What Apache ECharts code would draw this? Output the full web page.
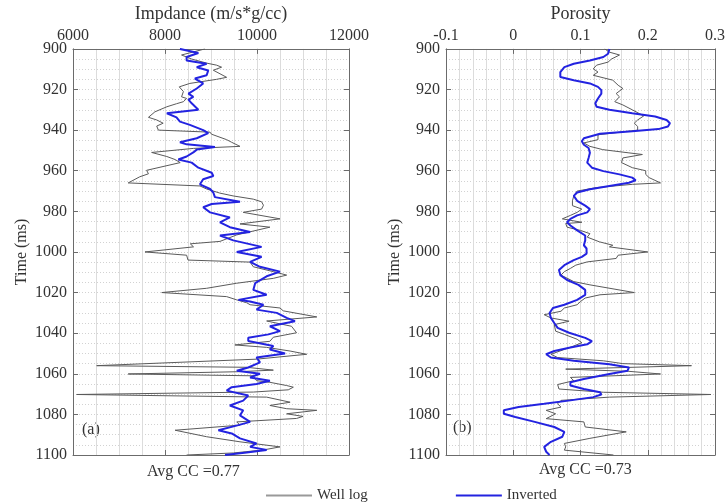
<!DOCTYPE html>
<html>
<head>
<meta charset="utf-8">
<script src="https://cdn.jsdelivr.net/npm/echarts@6/dist/echarts.min.js"></script>
<style>
html,body{margin:0;padding:0;background:#fff;}
#chart{width:728px;height:502px;}
</style>
</head>
<body>
<div id="chart"></div>
<script>
// ---- Data ----
const impTicks = [6000, 8000, 10000, 12000];
const porTicks = [-0.1, 0, 0.1, 0.2, 0.3];
const timeTicks = [900, 920, 940, 960, 980, 1000, 1020, 1040, 1060, 1080, 1100];

// (a) Impedance - well log
const impLogTime = [900,903,905,907,908,909,910.5,914,915,917,918.7,921,923.6,924.4,926,927,928.5,931,933.7,935,936.6,938,940,941,942,944.7,946,948,949,951,953,954.5,956,959.8,961.5,963,966,967.5,969,970,971,972.4,974,975.3,977,978.9,980.5,983.7,986.2,987.8,991.6,994.8,996,997.5,1000,1001.6,1004,1005,1007.3,1009.7,1011.4,1013,1015.4,1017.9,1020,1022,1023.6,1025,1026,1027.6,1029,1032,1034,1036.6,1039.8,1042,1044,1045.8,1047,1048.8,1050.4,1052.8,1056,1056.8,1058.2,1059,1060.1,1061,1063.4,1064.2,1065.8,1066.6,1067.9,1069,1070.2,1071.5,1074,1075.6,1077.2,1078,1079.7,1081,1082,1083.7,1085.3,1087.8,1091,1093.5,1096,1097.5,1099,1100];
const impLogVal = [8870,8360,8580,8905,9120,9230,9050,9340,9120,8540,8310,8400,8360,8470,8400,8250,8040,7780,7640,7820,7960,7820,7855,8980,9010,9340,9450,9630,8620,7710,8040,8220,8330,7600,7640,7450,7200,8760,8905,9050,9190,9480,9920,10100,10140,10100,9700,10500,9630,10280,9560,9195,8550,8620,7565,8470,8500,9850,9920,10355,10645,10355,9560,8905,7930,9340,9560,9775,9850,10500,10570,11300,10210,10750,10860,10355,10280,9520,10210,10720,11080,9990,6515,9775,10355,9560,7200,9920,9990,10280,10645,10790,10680,9920,6080,10210,10720,10280,10645,11300,10645,11000,10860,9560,9630,8220,8905,9630,10500,10140,9485,8470];

// (a) Impedance - inverted
const impInvTime = [900,902,904,905.7,907.3,909,910.6,913,914.6,917,919.5,922,923.6,925,926.8,930,931.7,933.7,935.8,937.4,940,941.5,944,946,947,948.3,949.6,951,953,954.5,956,958.5,961,962.6,964.2,966.7,969,970.7,973,975.3,976.4,978,980.5,983,985.4,987.8,990.2,991.9,994.3,997.5,1000,1002.4,1004.9,1007.3,1009.7,1012,1015.4,1018.7,1021.1,1023.6,1024.4,1026,1028.4,1030,1032.5,1034.1,1036.6,1039,1040.6,1042.3,1043.9,1046.3,1048,1050,1052,1054.4,1056.9,1058.5,1060,1061.8,1063.4,1065,1066.6,1068.3,1070.7,1073.2,1075.6,1078,1080.5,1083.7,1085.3,1087.8,1089.4,1091.8,1094.3,1096,1097.5,1098.8,1100];
const impInvVal = [8325,8725,8470,8470,8905,8690,8940,8905,8650,8830,8690,8510,8615,8510,8580,8725,8040,8250,8325,8540,8830,8940,8690,8325,8470,9085,8690,8615,8470,8290,8580,8725,9015,9050,8830,8760,8980,9050,9085,9630,9015,8830,8980,9410,9195,9410,9850,9195,9485,10100,9560,10100,9850,10065,10500,10210,9960,9920,10210,9595,9850,10140,9990,10430,10645,10825,10280,10500,10250,9810,9810,10355,10280,10610,9990,10065,9810,9560,10065,9850,10280,9990,9450,9340,9810,9700,9410,9700,9630,9850,9595,9160,9450,9630,9990,9850,10210,9775,9305];

// (b) Porosity - well log
const porLogTime = [900,901.6,903,905,906.5,908,909.8,911.4,913,915.4,917.9,919.5,922,923.6,926,927.6,930,933,935,936.6,938.2,940,942.3,944.7,946.3,948,949.6,951.2,952,953.7,956,958.5,960,961.8,963.4,966,966.7,968.3,970,972.4,974.8,977.2,978.9,980.5,982,983.7,985.4,986,987.8,989.4,991,992.7,995,996.7,997.5,1000,1001.6,1003.2,1004.9,1006.5,1008.1,1009.7,1011.4,1014.6,1016.2,1020,1021.1,1022.7,1024.4,1026,1027.6,1029.2,1030.9,1032.5,1034.1,1035.8,1039,1040.6,1043,1044.7,1046.3,1048,1050.4,1052,1053.6,1055,1056,1057.7,1058.8,1060.1,1061.8,1063.4,1065.3,1067.5,1069.1,1070.2,1071.5,1073.1,1074.8,1076.4,1078,1079.7,1082.1,1083.7,1086.2,1088.6,1091.8,1094.3,1096,1097.6,1100];
const porLogVal = [0.136,0.143,0.158,0.146,0.141,0.124,0.119,0.126,0.119,0.148,0.156,0.163,0.153,0.158,0.151,0.163,0.177,0.194,0.185,0.180,0.185,0.185,0.126,0.126,0.105,0.114,0.133,0.172,0.192,0.163,0.161,0.177,0.197,0.197,0.202,0.219,0.177,0.124,0.095,0.090,0.088,0.088,0.102,0.095,0.085,0.073,0.102,0.078,0.080,0.100,0.114,0.110,0.128,0.148,0.143,0.200,0.156,0.153,0.110,0.093,0.085,0.076,0.071,0.090,0.114,0.180,0.129,0.107,0.100,0.095,0.076,0.071,0.046,0.056,0.083,0.061,0.063,0.076,0.095,0.102,0.090,0.076,0.056,0.066,0.134,0.163,0.265,0.078,0.172,0.219,0.085,0.090,0.066,0.068,0.134,0.294,0.143,0.071,0.066,0.071,0.049,0.063,0.049,0.105,0.107,0.168,0.114,0.076,0.078,0.076,0.149];

// (b) Porosity - inverted
const porInvTime = [900,902.4,904,905.7,907.3,909,911.4,913.8,915.4,917,918.7,920.3,922,924.4,926.8,928.5,930,931.7,933.3,935,936.6,938.2,939.5,940.6,941.8,944,945.5,947.2,948.8,951.2,953.7,956,958.5,960.2,961.8,963.4,964.7,965.9,967.5,969.1,970.7,972.4,974.8,977.2,978.9,980.5,982,983.7,985.4,987,989.4,991.9,994.3,996.7,998.3,1000.8,1002.4,1004,1006.5,1008.9,1011.4,1013.8,1016.2,1018.7,1021.1,1023.6,1026,1027.6,1030.1,1032.5,1035,1037.4,1039.8,1042.3,1043.9,1045.5,1047.1,1048.8,1050.4,1052,1053.6,1055.3,1056.9,1058.5,1060.1,1062.6,1064.2,1065.8,1067.5,1069.1,1070.2,1071.5,1073.1,1074.8,1076.4,1078,1079.7,1081.3,1083.7,1086.2,1088.6,1091,1093.5,1096,1098.4,1100];
const porInvVal = [0.143,0.141,0.134,0.114,0.090,0.076,0.070,0.070,0.090,0.114,0.126,0.131,0.131,0.126,0.122,0.124,0.143,0.177,0.211,0.228,0.233,0.230,0.216,0.177,0.129,0.105,0.102,0.105,0.112,0.114,0.112,0.110,0.117,0.134,0.158,0.177,0.182,0.172,0.143,0.114,0.095,0.090,0.095,0.107,0.114,0.110,0.095,0.085,0.080,0.085,0.095,0.107,0.107,0.105,0.109,0.109,0.102,0.090,0.076,0.068,0.070,0.080,0.097,0.107,0.107,0.095,0.076,0.059,0.054,0.056,0.061,0.066,0.083,0.107,0.117,0.110,0.085,0.061,0.049,0.056,0.090,0.143,0.172,0.170,0.143,0.105,0.085,0.085,0.105,0.129,0.131,0.119,0.085,0.046,0.008,-0.014,-0.014,0.003,0.032,0.061,0.076,0.073,0.056,0.046,0.049,0.054];

const seriesNames = ['Well log', 'Inverted'];
const ccTexts = ['Avg CC =0.77', 'Avg CC =0.73'];
const panelTags = ['(a)', '(b)'];
const xNames = ['Impdance (m/s*g/cc)', 'Porosity'];
const yName = 'Time (ms)';

// ---- Build chart ----
const FONT = "'Liberation Serif','Times New Roman',serif";
const TXT = '#333';
const FRAME = '#6b6b6b';
const LOGC = '#5a5a5a';
const INVC = '#2323e0';

function zip(a, b) { return a.map((t, i) => [b[i], t]); }

function xAx(gi, ticks, minorN, name, top) {
  const min = ticks[0], max = ticks[ticks.length - 1];
  const interval = +(ticks[1] - ticks[0]).toFixed(6);
  return {
    gridIndex: gi, type: 'value', position: top ? 'top' : 'bottom',
    min: min, max: max, interval: interval,
    name: top ? name : '', nameLocation: 'middle', nameGap: 21,
    nameTextStyle: { fontSize: 18, fontFamily: FONT, color: TXT },
    axisLine: { show: true, onZero: false, lineStyle: { color: FRAME, width: 1 } },
    axisTick: { show: true, inside: true, length: 5, lineStyle: { color: FRAME } },
    axisLabel: { show: top, fontSize: 16, fontFamily: FONT, color: TXT, margin: 5,
      formatter: v => String(+(+v).toFixed(2)) },
    splitLine: { show: top, lineStyle: { color: '#dcdcdc', width: 1 } },
    minorTick: { show: false, splitNumber: minorN },
    minorSplitLine: { show: top, lineStyle: { color: '#dcdcdc', width: 1 } }
  };
}
function yAx(gi, left) {
  return {
    gridIndex: gi, type: 'value', position: left ? 'left' : 'right', inverse: true,
    min: timeTicks[0], max: timeTicks[timeTicks.length - 1], interval: timeTicks[1] - timeTicks[0],
    name: left ? yName : '', nameLocation: 'middle', nameGap: 43, nameRotate: 90,
    nameTextStyle: { fontSize: 16, fontFamily: FONT, color: TXT },
    axisLine: { show: true, onZero: false, lineStyle: { color: FRAME, width: 1 } },
    axisTick: { show: true, inside: true, length: 5, lineStyle: { color: FRAME } },
    axisLabel: { show: left, fontSize: 16, fontFamily: FONT, color: TXT, margin: 6,
      formatter: v => String(v) },
    splitLine: { show: left, lineStyle: { color: '#d2d2d2', type: [1, 2], width: 1 } },
    minorTick: { show: false, splitNumber: 4 },
    minorSplitLine: { show: left, lineStyle: { color: '#d2d2d2', type: [1, 2], width: 1 } }
  };
}

const option = {
  backgroundColor: '#fff',
  animation: false,
  grid: [
    { left: 73, top: 45, width: 276, height: 410 },
    { left: 446, top: 45, width: 275, height: 410 }
  ],
  xAxis: [
    xAx(0, impTicks, 4, xNames[0], true),
    xAx(0, impTicks, 4, '', false),
    xAx(1, porTicks, 5, xNames[1], true),
    xAx(1, porTicks, 5, '', false)
  ],
  yAxis: [yAx(0, true), yAx(0, false), yAx(1, true), yAx(1, false)],
  legend: {
    left: 261, top: 483, itemWidth: 46, itemHeight: 2, itemGap: 88, icon: 'rect',
    textStyle: { fontSize: 15, fontFamily: FONT, color: TXT, padding: [0, 0, 0, 0] },
    data: [
      { name: seriesNames[0], itemStyle: { color: '#999' } },
      { name: seriesNames[1], itemStyle: { color: INVC } }
    ]
  },
  series: [
    { name: seriesNames[0], type: 'line', xAxisIndex: 0, yAxisIndex: 0, data: zip(impLogTime, impLogVal),
      showSymbol: false, color: LOGC, lineStyle: { color: LOGC, width: 1 } },
    { name: seriesNames[0], type: 'line', xAxisIndex: 2, yAxisIndex: 2, data: zip(porLogTime, porLogVal),
      showSymbol: false, color: LOGC, lineStyle: { color: LOGC, width: 1 } },
    { name: seriesNames[1], type: 'line', xAxisIndex: 0, yAxisIndex: 0, data: zip(impInvTime, impInvVal),
      showSymbol: false, color: INVC, lineStyle: { color: INVC, width: 2 } },
    { name: seriesNames[1], type: 'line', xAxisIndex: 2, yAxisIndex: 2, data: zip(porInvTime, porInvVal),
      showSymbol: false, color: INVC, lineStyle: { color: INVC, width: 2 } }
  ],
  graphic: [
    { type: 'text', left: 147, top: 464, style: { text: ccTexts[0], fontSize: 16, fontFamily: FONT, fill: TXT } },
    { type: 'text', left: 539, top: 462, style: { text: ccTexts[1], fontSize: 16, fontFamily: FONT, fill: TXT } },
    { type: 'text', left: 82, top: 422, style: { text: panelTags[0], fontSize: 16, fontFamily: FONT, fill: TXT } },
    { type: 'text', left: 453, top: 420, style: { text: panelTags[1], fontSize: 16, fontFamily: FONT, fill: TXT } }
  ]
};

const chart = echarts.init(document.getElementById('chart'), null, { renderer: 'canvas' });
chart.setOption(option);
</script>
</body>
</html>
